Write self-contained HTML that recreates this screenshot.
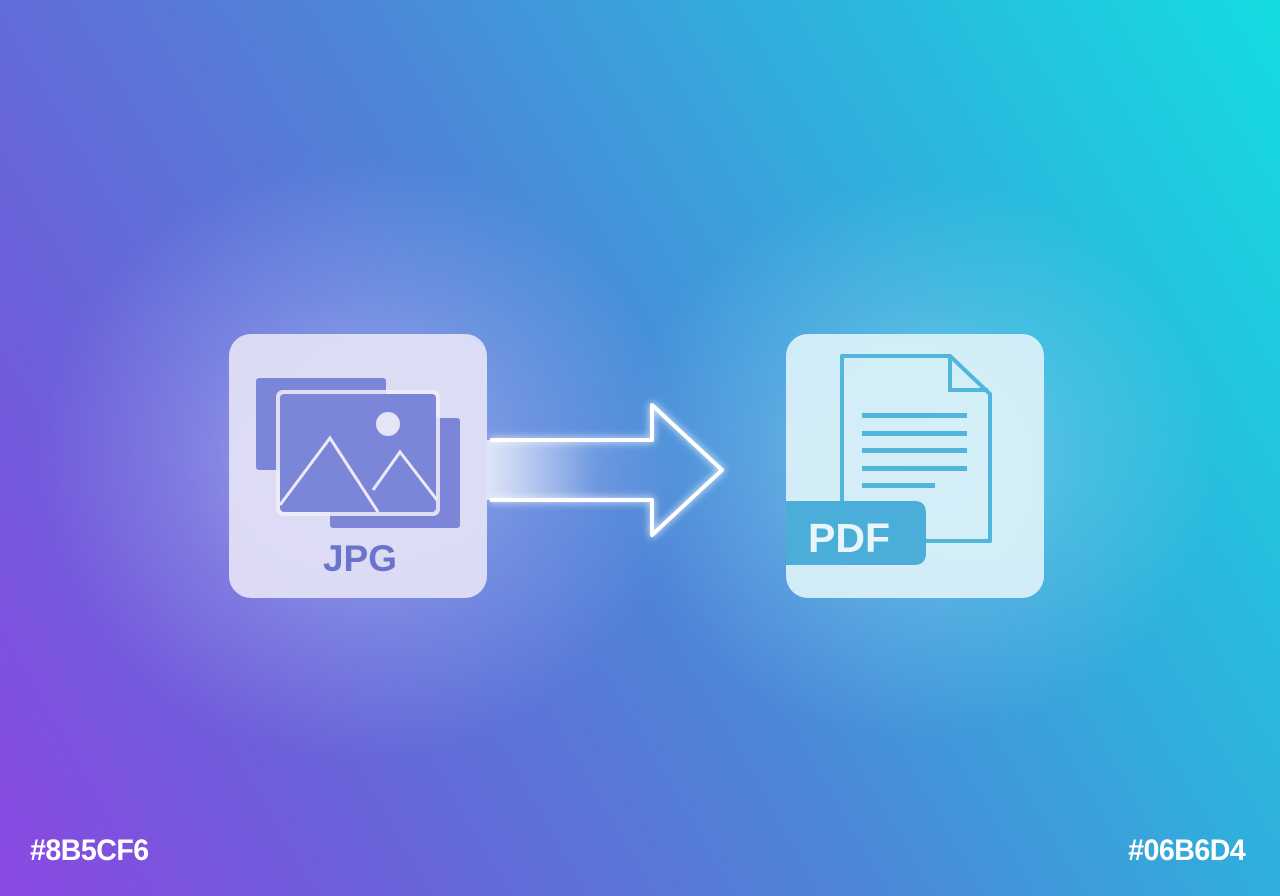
<!DOCTYPE html>
<html><head><meta charset="utf-8"><style>
html,body{margin:0;padding:0}
body{width:1280px;height:896px;overflow:hidden;position:relative;
background:linear-gradient(60deg,#8a48e2 0%,#6a62da 22%,#4d86d8 48%,#2fb0dc 72%,#14dce2 100%);
font-family:"Liberation Sans",sans-serif}
.glow{position:absolute;border-radius:50%}
.lbl{position:absolute;top:834px;color:#fff;font-weight:bold;font-size:30px;letter-spacing:-0.5px;transform:scaleX(.95)}
</style></head><body>
<div class="glow" style="left:40px;top:160px;width:640px;height:600px;background:radial-gradient(closest-side,rgba(230,225,255,.5),rgba(220,220,255,.2) 55%,rgba(255,255,255,0))"></div>
<div class="glow" style="left:620px;top:180px;width:600px;height:560px;background:radial-gradient(closest-side,rgba(200,245,255,.45),rgba(200,240,255,.17) 55%,rgba(255,255,255,0))"></div>
<svg width="1280" height="896" style="position:absolute;left:0;top:0">
<defs>
<linearGradient id="sh" x1="0" x2="1"><stop offset="0" stop-color="#fff" stop-opacity=".75"/><stop offset=".6" stop-color="#fff" stop-opacity=".1"/><stop offset="1" stop-color="#fff" stop-opacity="0"/></linearGradient>
<filter id="gl" x="-20%" y="-20%" width="140%" height="140%"><feGaussianBlur stdDeviation="4" result="b"/><feMerge><feMergeNode in="b"/><feMergeNode in="SourceGraphic"/></feMerge></filter>
</defs>
<rect x="229" y="334" width="258" height="264" rx="22" fill="#e4e2f6" opacity=".92"/>
<rect x="786" y="334" width="258" height="264" rx="22" fill="#dcf2f8" opacity=".92"/>
<rect x="256" y="378" width="130" height="92" rx="3" fill="#7c86d8"/>
<rect x="330" y="418" width="130" height="110" rx="3" fill="#7c86d8"/>
<rect x="276" y="390" width="164" height="126" rx="7" fill="#f0eefa" opacity=".85"/>
<rect x="280" y="394" width="156" height="118" rx="4" fill="#7c86d8"/>
<circle cx="388" cy="424" r="12" fill="#e6e6f8"/>
<polyline points="280,505 330,438 378,512" fill="none" stroke="#eceaf8" stroke-width="3"/>
<polyline points="373,490 400,452 437,500" fill="none" stroke="#eceaf8" stroke-width="3"/>
<text x="360" y="571" text-anchor="middle" font-size="37" font-weight="bold" fill="#6a74cc" font-family="Liberation Sans">JPG</text>
<rect x="487" y="440" width="180" height="60" fill="url(#sh)"/>
<path d="M490,440 H652 V405 L722,470 L652,535 V500 H490" fill="none" stroke="#fff" stroke-width="4" stroke-linejoin="round" filter="url(#gl)"/>
<path d="M842,356 H950 L990,394 V541 H842 Z" fill="none" stroke="#52b6dc" stroke-width="4" stroke-linejoin="round"/>
<path d="M950,356 V390 H988" fill="none" stroke="#52b6dc" stroke-width="4"/>
<g fill="#52b6dc"><rect x="862" y="413" width="105" height="5"/><rect x="862" y="431" width="105" height="5"/><rect x="862" y="448" width="105" height="5"/><rect x="862" y="466" width="105" height="5"/><rect x="862" y="483" width="73" height="5"/></g>
<path d="M786,501 H914 Q926,501 926,513 V553 Q926,565 914,565 H786 Z" fill="#4aaed8"/>
<text x="808" y="552" font-size="41" font-weight="bold" fill="#e8f6fb" font-family="Liberation Sans">PDF</text>
</svg>
<div class="lbl" style="left:30px;transform-origin:left">#8B5CF6</div>
<div class="lbl" style="right:35px;transform-origin:right">#06B6D4</div>
</body></html>
